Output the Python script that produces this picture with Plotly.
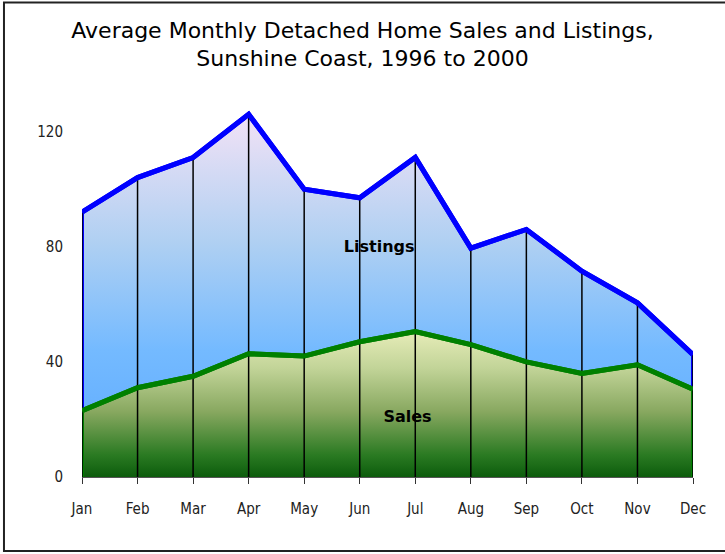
import plotly.graph_objects as go

months = ["Jan", "Feb", "Mar", "Apr", "May", "Jun", "Jul", "Aug", "Sep", "Oct", "Nov", "Dec"]
listings = [92, 104, 111, 126, 100, 97, 111, 79.5, 86, 71.5, 60.5, 42.5]
sales = [23, 31, 35, 42.8, 42, 47, 50.5, 46, 40, 36, 39, 30.5]
y_ticks = [0, 40, 80, 120]

xi = list(range(len(months)))
fig = go.Figure()

# Listings area
fig.add_trace(go.Scatter(
    x=xi, y=listings, mode="lines", fill="tozeroy",
    line=dict(color="#0000ff", width=5),
    fillgradient=dict(type="vertical", start=0, stop=max(listings),
                      colorscale=[[0, "#5aa8ff"], [0.35, "#74baff"], [0.65, "#b0d0f2"], [1, "#f2e2f6"]]),
    hoverinfo="skip", showlegend=False))

# Sales area
fig.add_trace(go.Scatter(
    x=xi, y=sales, mode="lines", fill="tozeroy",
    line=dict(color="#008000", width=5),
    fillgradient=dict(type="vertical", start=0, stop=max(sales),
                      colorscale=[[0, "#0c5c0c"], [0.15, "#2a7a22"], [0.45, "#88a860"], [0.75, "#c2d498"], [1, "#e6ecb8"]]),
    hoverinfo="skip", showlegend=False))

# Edge borders of areas (left and right)
for idx in (0, len(months) - 1):
    fig.add_trace(go.Scatter(x=[xi[idx], xi[idx]], y=[0, sales[idx]], mode="lines",
                             line=dict(color="#008000", width=4), hoverinfo="skip", showlegend=False))
    fig.add_trace(go.Scatter(x=[xi[idx], xi[idx]], y=[sales[idx], listings[idx]], mode="lines",
                             line=dict(color="#0000ff", width=4), hoverinfo="skip", showlegend=False))

# Series labels
fig.add_trace(go.Scatter(x=[5.35, 5.86], y=[79.5, 20.5], mode="text", text=["Listings", "Sales"],
                         textfont=dict(family="DejaVu Sans", size=16, color="#000000", weight="bold"),
                         hoverinfo="skip", showlegend=False))

# Drop lines
dx, dy = [], []
for i, v in enumerate(listings):
    dx += [xi[i], xi[i], None]
    dy += [0, v, None]
fig.add_trace(go.Scatter(x=dx, y=dy, mode="lines", line=dict(color="#000000", width=1.5),
                         hoverinfo="skip", showlegend=False))

# redraw series lines on top of drop lines
fig.add_trace(go.Scatter(x=xi, y=sales, mode="lines", line=dict(color="#008000", width=5),
                         hoverinfo="skip", showlegend=False))
fig.add_trace(go.Scatter(x=xi, y=listings, mode="lines", line=dict(color="#0000ff", width=5),
                         hoverinfo="skip", showlegend=False))

fig.update_layout(
    width=725, height=554,
    margin=dict(l=82, r=32, t=74, b=77),
    paper_bgcolor="white", plot_bgcolor="white",
    title=dict(text="Average Monthly Detached Home Sales and Listings,<br>Sunshine Coast, 1996 to 2000",
               x=0.5, xanchor="center", y=0.932, yanchor="top",
               font=dict(family="DejaVu Sans", size=22, color="#000000")),
    xaxis=dict(range=[0, 11], tickvals=xi, ticktext=months, showgrid=False, zeroline=False,
               showline=True, linecolor="#555555", linewidth=1, ticks="outside", ticklen=6,
               tickcolor="#333333", ticklabelstandoff=12,
               tickfont=dict(family="DejaVu Sans Condensed, DejaVu Sans", size=15, color="#222222")),
    yaxis=dict(range=[0, 140], tickvals=y_ticks, showgrid=False, zeroline=False, showline=False,
               ticks="", ticklabelstandoff=18,
               tickfont=dict(family="DejaVu Sans Condensed, DejaVu Sans", size=15, color="#222222")),
    shapes=[dict(type="rect", xref="paper", yref="paper", x0=-0.1277, x1=1.1, y0=-0.1836, y1=1.1775,
                 line=dict(color="#222222", width=2))],
)

fig.write_html("out.html", config={"displayModeBar": False},
               post_script="document.body.style.margin='0';")
